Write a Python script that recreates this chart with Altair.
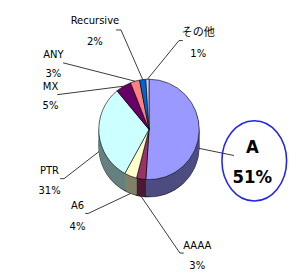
import altair as alt
import pandas as pd

# ---- data ----
categories = ["A", "AAAA", "A6", "PTR", "MX", "ANY", "Recursive", "その他"]
values = [51, 3, 4, 31, 5, 3, 2, 1]
pct_labels = ["51%", "3%", "4%", "31%", "5%", "3%", "2%", "1%"]

# ---- styles ----
top_colors = ["#9999FF", "#993366", "#FFFFCC", "#CCFFFF", "#660066", "#FF8080", "#0066CC", "#CCCCFF"]
side_colors = ["#4D4D80", "#4D1A33", "#80806A", "#668080", "#330033", "#804040", "#003366", "#666680"]
FONT = "Liberation Sans Narrow, DejaVu Sans Condensed, Noto Sans CJK JP, sans-serif"

# ---- layout (pixels in the chart) ----
W, H = 282, 262
CX, CY, R, DEPTH = 146, 121, 52, 18
name_pos = [(253, 139), (196, 242), (72, 200), (43, 164), (44, 77), (47, 44), (90, 9), (197, 21)]
line_gap = [31, 20, 22, 21, 20, 20, 22, 22]
line_start = [(234, 148), (178, 249), (83, 208), (58, 172), (51, 85), (57, 52), (117, 18), (177, 29)]
tick_dx = [0, 4, -3, -4, 0, 0, -5, 4]

df = pd.DataFrame({
    "cat": categories,
    "value": values,
    "pct": pct_labels,
    "order": list(range(len(categories))),
    "nx": [p[0] for p in name_pos],
    "ny": [p[1] for p in name_pos],
    "gap": line_gap,
    "lx": [p[0] for p in line_start],
    "ly": [p[1] for p in line_start],
    "tdx": tick_dx,
})
df["py2"] = df["ny"] + df["gap"]
df["tx"] = df["lx"] + df["tdx"]

base = alt.Chart(df)
theta = alt.Theta("value:Q", stack=True)
order = alt.Order("order:Q", sort="ascending")

layers = []
# side of the 3D pie
for d in range(DEPTH, 0, -1):
    layers.append(
        base.mark_arc(radius=R, stroke="black" if d == DEPTH else "transparent",
                      strokeWidth=0.6 if d == DEPTH else 0).encode(
            theta=theta, order=order,
            color=alt.Color("cat:N", scale=alt.Scale(domain=categories, range=side_colors), legend=None),
            x=alt.value(CX), y=alt.value(CY + d),
        )
    )
# top face
layers.append(
    base.mark_arc(radius=R, stroke="black", strokeWidth=0.6).encode(
        theta=theta, order=order,
        fill=alt.Fill("cat:N", scale=alt.Scale(domain=categories, range=top_colors), legend=None),
        x=alt.value(CX), y=alt.value(CY),
    )
)

# leader lines
leaders = base.transform_window(
    cum="sum(value)", sort=[alt.SortField("order")]
).transform_joinaggregate(total="sum(value)").transform_calculate(
    mid="(datum.cum - datum.value/2) / datum.total * 2 * PI"
).transform_calculate(
    px=f"{CX} + {R} * sin(datum.mid)",
    py=f"{CY} - {R} * cos(datum.mid) + (cos(datum.mid) < 0 ? {DEPTH} : 0)",
).mark_rule(color="black", strokeWidth=0.8).encode(
    x=alt.X("lx:Q", scale=None), y=alt.Y("ly:Q", scale=None),
    x2="px:Q", y2="py:Q",
)
ticks = base.transform_filter("datum.tdx != 0").mark_rule(color="black", strokeWidth=0.8).encode(
    x=alt.X("lx:Q", scale=None), x2="tx:Q", y=alt.Y("ly:Q", scale=None),
)
layers += [leaders, ticks]

# labels
small = base.transform_filter("datum.cat != 'A'")
layers.append(small.mark_text(font=FONT, fontSize=11.5, baseline="middle", align="center", color="black").encode(
    x=alt.X("nx:Q", scale=None), y=alt.Y("ny:Q", scale=None), text="cat:N"))
layers.append(small.mark_text(font=FONT, fontSize=11.5, baseline="middle", align="center", color="black").encode(
    x=alt.X("nx:Q", scale=None), y=alt.Y("py2:Q", scale=None), text="pct:N"))

big = base.transform_filter("datum.cat == 'A'")
layers.append(big.mark_text(font=FONT, fontSize=19, fontWeight="bold", baseline="middle", align="center", color="black").encode(
    x=alt.X("nx:Q", scale=None), y=alt.Y("ny:Q", scale=None), text="cat:N"))
layers.append(big.mark_text(font=FONT, fontSize=19, fontWeight="bold", baseline="middle", align="center", color="black").encode(
    x=alt.X("nx:Q", scale=None), y=alt.Y("py2:Q", scale=None), text="pct:N"))

# blue ellipse around the A label
rx, k = 0.807, 0.5523
ell = (f"M 0 -1 C {k*rx:.4f} -1 {rx} -{k} {rx} 0 C {rx} {k} {k*rx:.4f} 1 0 1 "
       f"C -{k*rx:.4f} 1 -{rx} {k} -{rx} 0 C -{rx} -{k} -{k*rx:.4f} -1 0 -1 Z")
layers.append(big.transform_calculate(ex="datum.nx + 2", ey="datum.ny + datum.gap / 2 - 1").mark_point(
    shape=ell, size=83 * 83, filled=False, stroke="#2222EE", strokeWidth=1.6, opacity=1).encode(
    x=alt.X("ex:Q", scale=None), y=alt.Y("ey:Q", scale=None)))

chart = alt.layer(*layers).properties(width=W, height=H, padding=0, background="white").configure_view(strokeWidth=0)
chart.save("out.html", embed_options={"renderer": "svg", "actions": False})
